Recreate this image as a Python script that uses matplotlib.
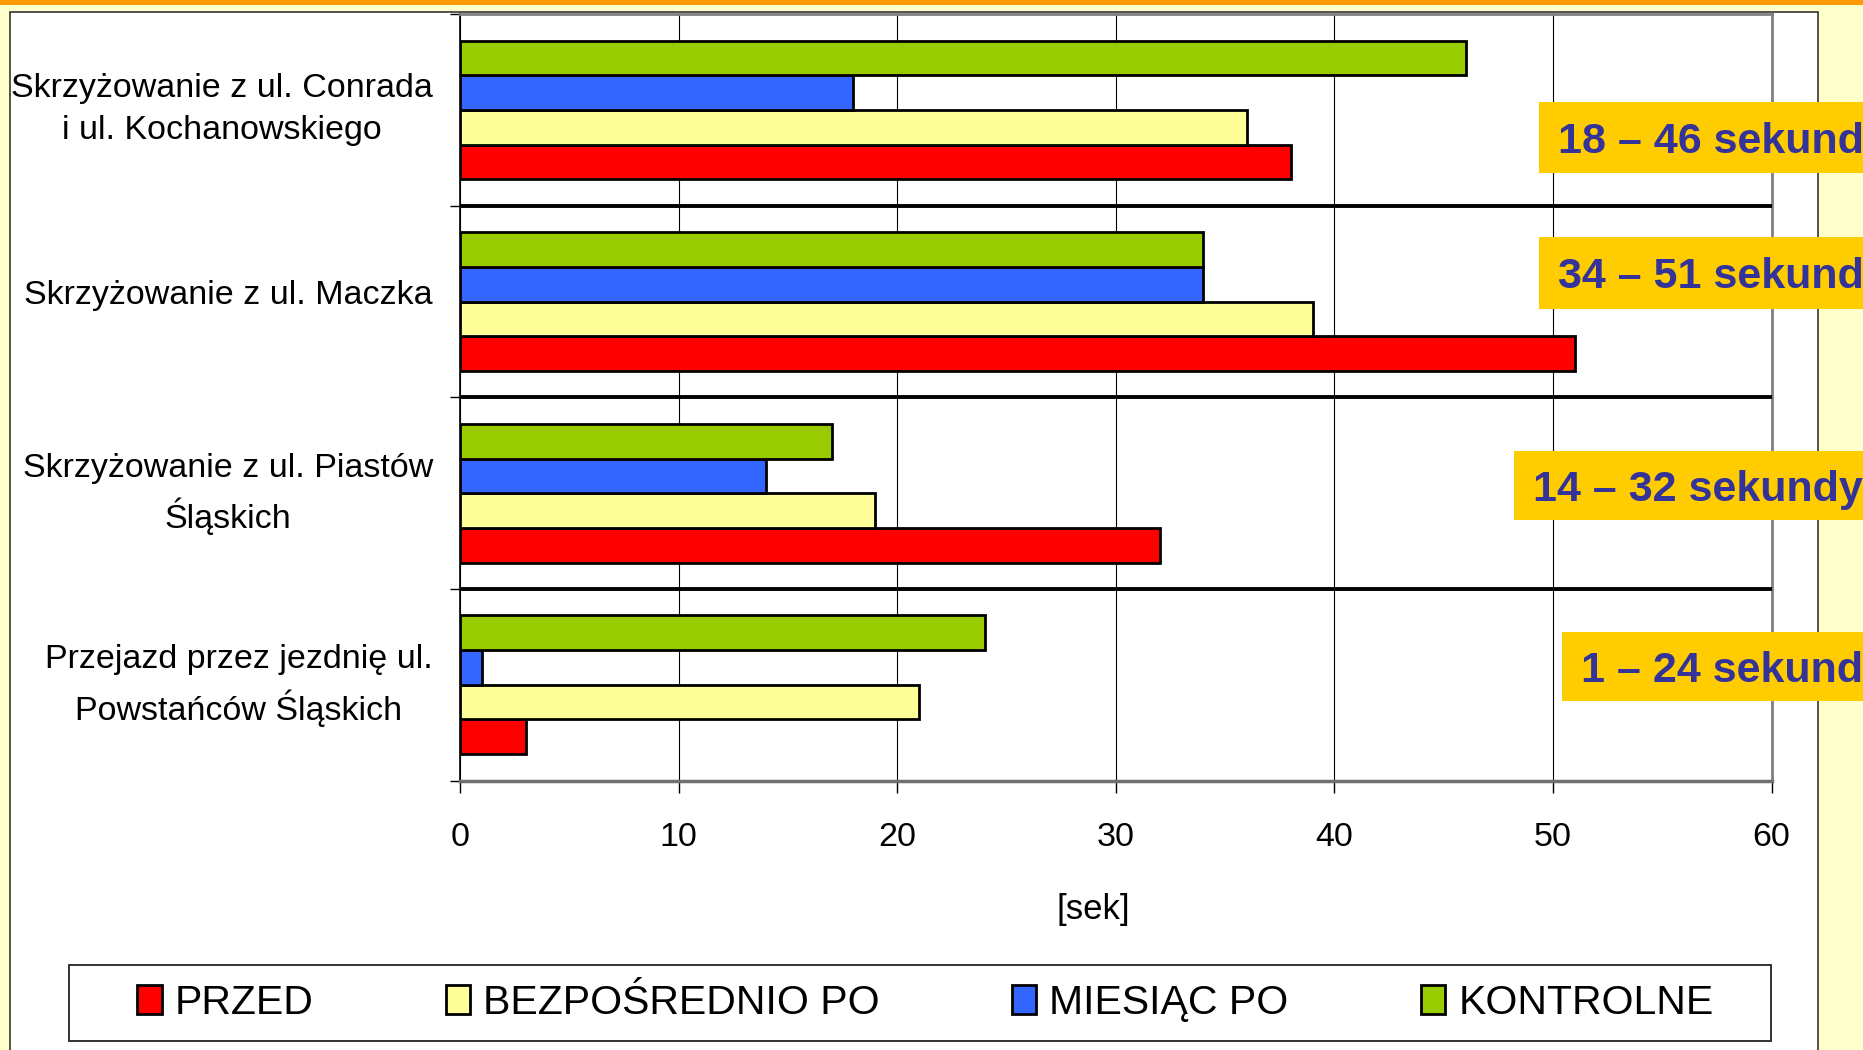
import numpy as np
import matplotlib
matplotlib.use("Agg")
import matplotlib.pyplot as plt
from matplotlib.patches import Rectangle

plt.rcParams['font.family'] = ['Liberation Sans', 'DejaVu Sans']

categories = [
    "Skrzyżowanie z ul. Conrada\ni ul. Kochanowskiego",
    "Skrzyżowanie z ul. Maczka",
    "Skrzyżowanie z ul. Piastów\nŚląskich",
    "Przejazd przez jezdnię ul.\nPowstańców Śląskich",
]
series_names = ["PRZED", "BEZPOŚREDNIO PO", "MIESIĄC PO", "KONTROLNE"]
przed = [38, 51, 32, 3]
bezposrednio_po = [36, 39, 19, 21]
miesiac_po = [18, 34, 14, 1]
kontrolne = [46, 34, 17, 24]
ranges = ["18 – 46 sekund", "34 – 51 sekund", "14 – 32 sekundy", "1 – 24 sekund"]
x_ticks = [0, 10, 20, 30, 40, 50, 60]
x_label = "[sek]"

colors = ["#FF0000", "#FFFF99", "#3366FF", "#99CC00"]

W, H = 1863, 1050
fig = plt.figure(figsize=(W / 100, H / 100), dpi=100, facecolor="#FFFFCC")

def fx(px):
    return px / W

def fy(py):
    return 1 - py / H

# background panels
fig.patches.append(Rectangle((0, fy(5)), 1, 5 / H, transform=fig.transFigure,
                             facecolor="#FF9900", edgecolor="none", zorder=-10))
fig.patches.append(Rectangle((fx(9.5), fy(1052)), (1818 - 9.5) / W, (1052 - 12) / H,
                             transform=fig.transFigure, facecolor="white",
                             edgecolor="#333333", lw=1.2, zorder=-9))
fig.patches.append(Rectangle((fx(69), fy(1041)), (1771 - 69) / W, (1041 - 965) / H,
                             transform=fig.transFigure, facecolor="white",
                             edgecolor="#222222", lw=1.3, zorder=-5))

ax = fig.add_axes([fx(460), fy(780.6), (1771.6 - 460) / W, (780.6 - 14.3) / H])
ax.set_facecolor("white")

y = np.arange(len(categories))
h = 0.181
values = [przed, bezposrednio_po, miesiac_po, kontrolne]
offsets = [1.5 * h, 0.5 * h, -0.5 * h, -1.5 * h]
containers = []
for vals, off, c, name in zip(values, offsets, colors, series_names):
    bc = ax.barh(y + off, vals, height=h, color=c, edgecolor="black",
                 linewidth=2.0, label=name, zorder=2)
    containers.append(bc)

ax.set_xlim(0, 60)
ax.set_ylim(3.5, -0.5)
ax.set_xticks(x_ticks)
ax.set_xticklabels([str(t) for t in x_ticks], fontsize=24.5)
ax.tick_params(axis="x", length=8.6, width=1, color="black", pad=21)

ax.set_yticks(y - 0.05)
ax.set_yticklabels(categories, fontsize=24.5)
for t in ax.get_yticklabels():
    t.set_multialignment("center")
    t.set_linespacing(1.45)
ax.tick_params(axis="y", which="major", length=0, pad=19.5)
ax.set_yticks([-0.5, 0.5, 1.5, 2.5, 3.5], minor=True)
ax.tick_params(axis="y", which="minor", length=7.5, width=1, color="black")

ax.set_axisbelow(True)
ax.xaxis.grid(True, color="black", lw=0.8)

for b in [0.5, 1.5, 2.5]:
    ax.axhline(b, color="black", lw=2.8, zorder=3)

ax.spines["left"].set_color("black")
ax.spines["left"].set_linewidth(1.2)
for s in ["top", "right"]:
    ax.spines[s].set_color("#808080")
    ax.spines[s].set_linewidth(2)
ax.spines["bottom"].set_color("#707070")
ax.spines["bottom"].set_linewidth(2.5)

ax.set_xlabel(x_label, fontsize=25)
ax.xaxis.set_label_coords((1093 - 460) / 1311.6, (780.6 - 909) / 766.3)
ax.xaxis.label.set_va("center")

# legend
fig.legend(containers, series_names, loc="center left",
           bbox_to_anchor=(fx(137), fy(1003)), ncol=4, frameon=False,
           fontsize=29.5, handlelength=0.6, handleheight=0.7,
           handletextpad=0.32, columnspacing=3.22, borderpad=0, borderaxespad=0)

# range annotation boxes
box_x = [1539, 1539, 1514, 1562]
box_y = [(102, 173), (237, 309), (451, 520), (632, 701)]
for txt, bx, (y0, y1) in zip(ranges, box_x, box_y):
    fig.patches.append(Rectangle((fx(bx), fy(y1)), (W - bx + 5) / W, (y1 - y0) / H,
                                 transform=fig.transFigure, facecolor="#FFCC00",
                                 edgecolor="none", zorder=5))
    fig.text(fx(bx + 19), fy((y0 + y1) / 2), txt, color="#333399",
             fontsize=31, fontweight="bold", ha="left", va="center_baseline", zorder=6)

fig.savefig("out.png", dpi=100, facecolor=fig.get_facecolor())
